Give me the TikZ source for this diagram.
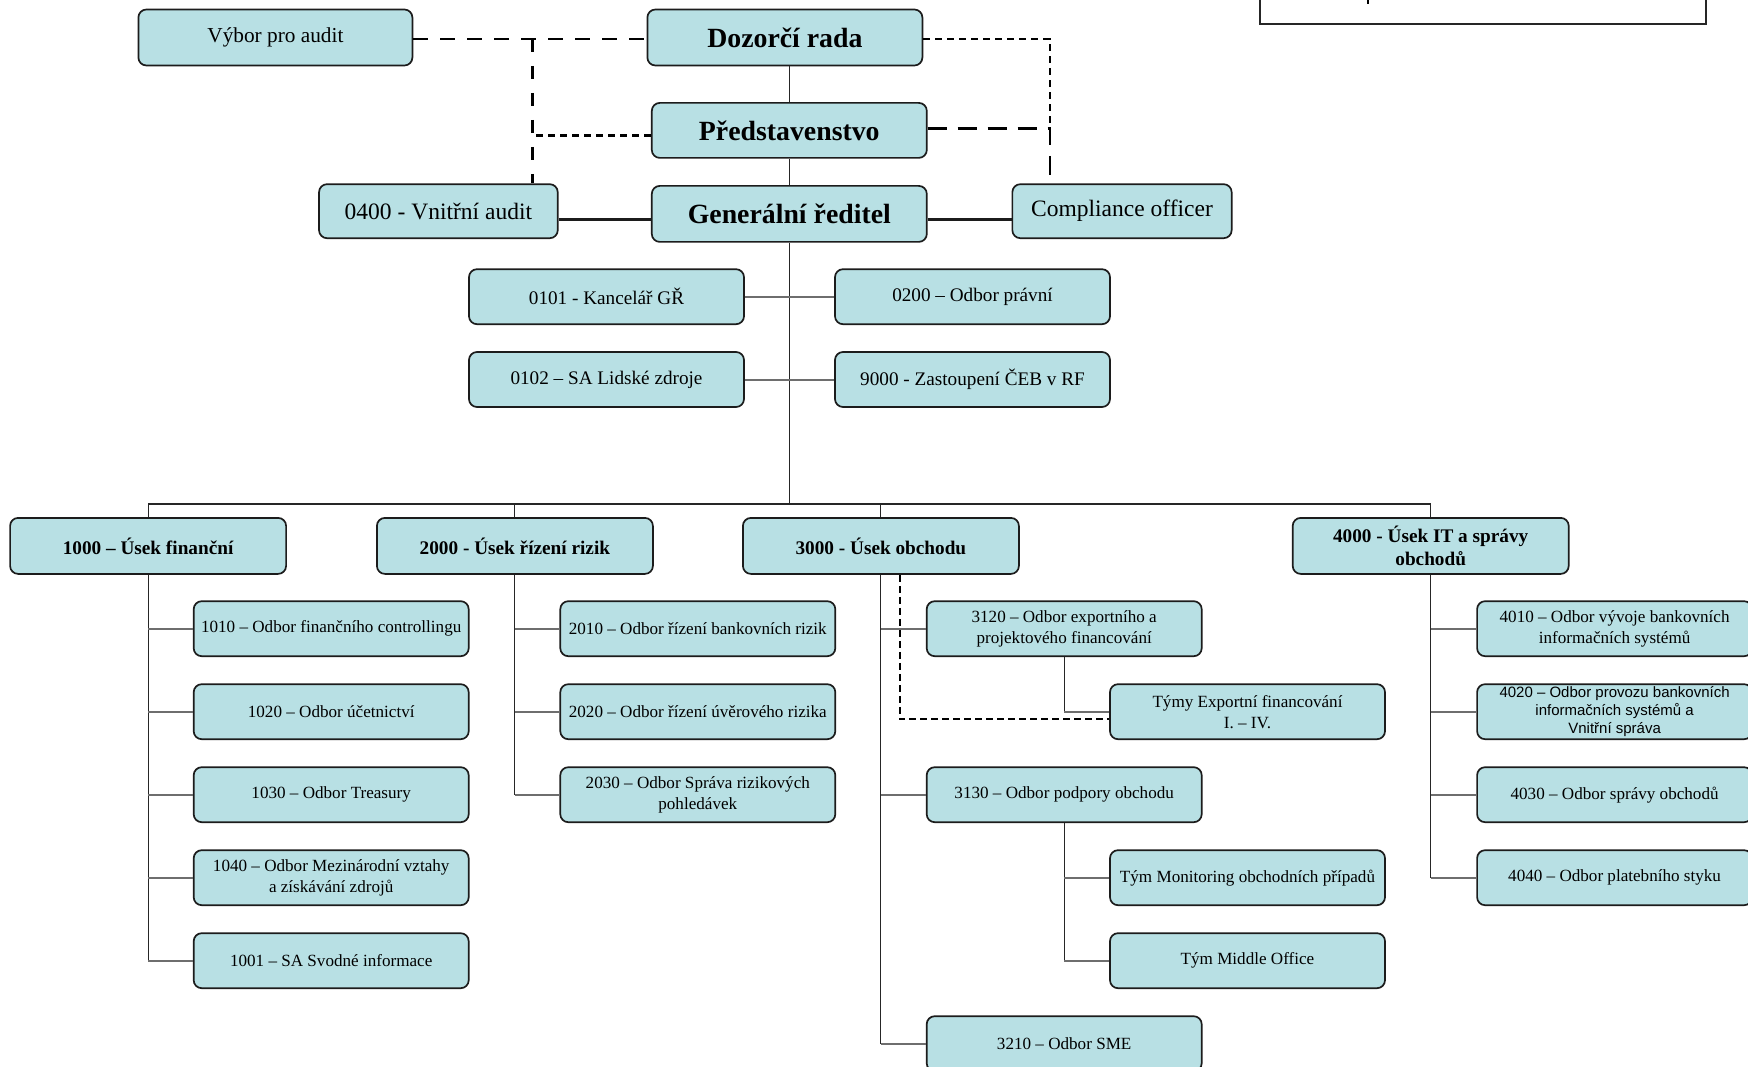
\documentclass[tikz,border=0pt]{standalone}
\usepackage{fontspec}
\setmainfont{Liberation Serif}
\newfontfamily\arialf{Liberation Sans}
\definecolor{boxfill}{RGB}{184,224,228}
\definecolor{boxline}{RGB}{28,28,28}
\definecolor{conn}{RGB}{110,110,110}
\begin{document}
\begin{tikzpicture}[x=1pt,y=-1pt,
  box/.style={draw=boxline, fill=boxfill, rounded corners=8pt, line width=1.7pt,
    minimum width=275pt, minimum height=55pt, inner sep=2pt, align=center},
  tbox/.style={box, minimum height=56pt, font=\fontsize{27.8}{32}\selectfont\bfseries},
  dbox/.style={box, minimum width=276pt, minimum height=56pt, font=\fontsize{19.25}{23}\selectfont\bfseries},
  mbox/.style={box, font=\fontsize{19.2}{23}\selectfont},
  sbox/.style={box, font=\fontsize{17.1}{21}\selectfont},
  trunk/.style={draw=black!85, line width=1.1pt},
  branch/.style={draw=conn, line width=2pt},
  thickconn/.style={draw=boxline, line width=2.6pt},
  dashA/.style={draw=black, line width=2.7pt, dash pattern=on 15pt off 12pt},
  dashB/.style={draw=black, line width=2.7pt, dash pattern=on 13pt off 14pt},
  dashC/.style={draw=black, line width=2.7pt, dash pattern=on 19pt off 11pt},
  dotS/.style={draw=black, line width=2.7pt, dash pattern=on 7pt off 5pt},
  dotT/.style={draw=black, line width=2.3pt, dash pattern=on 7pt off 4pt}
]
\useasboundingbox (0,0) rectangle (1748,1067);
\fill[white] (0,0) rectangle (1748,1067);

% top-right box (cut off)
\node[draw=black!85, line width=2pt, minimum width=445.6pt, minimum height=80pt, inner sep=0pt] (legend) at (1483.2,-16) {};
\draw[line width=2.5pt] (1368,-2) -- (1368,4);

% coordinates for connectors
\coordinate (bus) at (0,504);
\coordinate (yt) at (0,219.6);
\coordinate (lj) at (532.7,39);
\coordinate (pl) at (532.7,135.7);
\coordinate (rj) at (1050,39);
\coordinate (rm) at (1050,128.3);
\coordinate (dx) at (900,0);
\coordinate (dy) at (0,719.3);

% top management
\node[box, minimum width=274pt, minimum height=56pt, font=\fontsize{21.3}{25}\selectfont] (va) at (275.4,37.5) {Výbor pro audit};
\node[tbox] (dr) at (784.9,37.5) {Dozorčí rada};
\node[tbox, minimum height=55pt] (pr) at (789.3,130.4) {Představenstvo};
\node[tbox] (gr) at (789.3,213.9) {Generální ředitel};
\node[box, minimum width=238.7pt, minimum height=54pt, font=\fontsize{23.5}{27}\selectfont] (oa) at (438.4,211.2) {0400 - Vnitřní audit};
\node[box, minimum width=219.3pt, minimum height=54pt, font=\fontsize{23.5}{27}\selectfont] (co) at (1122,211.2) {Compliance officer};

% staff units
\node[mbox] (k1) at (606.5,296.7) {0101 - Kancelář GŘ};
\node[mbox] (op) at (972.5,296.7) {0200 – Odbor právní};
\node[mbox] (lz) at (606.5,379.5) {0102 – SA Lidské zdroje};
\node[mbox] (rf) at (972.5,379.5) {9000 - Zastoupení ČEB v RF};

% divisions
\node[dbox] (d1) at (148.1,545.9) {1000 – Úsek finanční};
\node[dbox] (d2) at (514.9,545.9) {2000 - Úsek řízení rizik};
\node[dbox] (d3) at (880.9,545.9) {3000 - Úsek obchodu};
\node[dbox] (d4) at (1430.7,545.9) {4000 - Úsek IT a správy\\obchodů};

% 1000 children
\node[sbox] (a1) at (331.2,628.7) {1010 – Odbor finančního controllingu};
\node[sbox] (a2) at (331.2,711.7) {1020 – Odbor účetnictví};
\node[sbox] (a3) at (331.2,794.7) {1030 – Odbor Treasury};
\node[sbox] (a4) at (331.2,877.7) {1040 – Odbor Mezinárodní vztahy\\a získávání zdrojů};
\node[sbox] (a5) at (331.2,960.7) {1001 – SA Svodné informace};

% 2000 children
\node[sbox] (b1) at (697.8,628.7) {2010 – Odbor řízení bankovních rizik};
\node[sbox] (b2) at (697.8,711.7) {2020 – Odbor řízení úvěrového rizika};
\node[sbox] (b3) at (697.8,794.7) {2030 – Odbor Správa rizikových\\pohledávek};

% 3000 children
\node[sbox] (c1) at (1064.2,628.7) {3120 – Odbor exportního a\\projektového financování};
\node[sbox] (c1a) at (1247.5,711.7) {Týmy Exportní financování\\I. – IV.};
\node[sbox] (c2) at (1064.2,794.7) {3130 – Odbor podpory obchodu};
\node[sbox] (c2a) at (1247.5,877.7) {Tým Monitoring obchodních případů};
\node[sbox] (c2b) at (1247.5,960.7) {Tým Middle Office};
\node[sbox] (c3) at (1064.2,1043.7) {3210 – Odbor SME};

% 4000 children
\node[sbox] (e1) at (1614.6,628.7) {4010 – Odbor vývoje bankovních\\informačních systémů};
\node[box, font=\arialf\fontsize{15}{17.8}\selectfont] (e2) at (1614.6,711.7) {4020 – Odbor provozu bankovních\\informačních systémů a\\Vnitřní správa};
\node[sbox] (e3) at (1614.6,794.7) {4030 – Odbor správy obchodů};
\node[sbox] (e4) at (1614.6,877.7) {4040 – Odbor platebního styku};

% main trunk
\draw[trunk] (dr.south -| pr.north) -- (pr.north);
\draw[trunk] (pr.south) -- (gr.north);
\draw[trunk] (gr.south) -- (gr.south |- bus);
\draw[trunk] (d1.north |- bus) -- (d4.north |- bus);
\foreach \d in {d1,d2,d3,d4} { \draw[trunk] (\d.north |- bus) -- (\d.north); }

% staff connectors
\draw[branch] (k1.east) -- (op.west);
\draw[branch] (lz.east) -- (rf.west);
\draw[thickconn] (oa.east |- yt) -- (gr.west |- yt);
\draw[thickconn] (gr.east |- yt) -- (co.west |- yt);

% dashed reporting lines (top)
\draw[dashA] (va.east |- lj) -- (dr.west |- lj);
\draw[dashB] (lj) -- (lj |- oa.north);
\draw[dotS] (pr.west |- pl) -- (pl);
\draw[dotS] (dr.east |- rj) -- (rj) -- (rm);
\draw[dashC] (pr.east |- rm) -- (rm) -- (rm |- co.north);

% division trees
\draw[trunk] (d1.south) -- (d1.south |- a5.west);
\foreach \c in {a1,a2,a3,a4,a5} { \draw[branch] (d1.south |- \c.west) -- (\c.west); }
\draw[trunk] (d2.south) -- (d2.south |- b3.west);
\foreach \c in {b1,b2,b3} { \draw[branch] (d2.south |- \c.west) -- (\c.west); }
\draw[trunk] (d3.south) -- (d3.south |- c3.west);
\foreach \c in {c1,c2,c3} { \draw[branch] (d3.south |- \c.west) -- (\c.west); }
\draw[trunk] (c1.south) -- (c1.south |- c1a.west);
\draw[branch] (c1.south |- c1a.west) -- (c1a.west);
\draw[trunk] (c2.south) -- (c2.south |- c2b.west);
\foreach \c in {c2a,c2b} { \draw[branch] (c2.south |- \c.west) -- (\c.west); }
\draw[dotT] (dx |- d3.south) -- (dx |- dy) -- (c1a.west |- dy);
\draw[trunk] (d4.south) -- (d4.south |- e4.west);
\foreach \c in {e1,e2,e3,e4} { \draw[branch] (d4.south |- \c.west) -- (\c.west); }
\end{tikzpicture}
\end{document}
